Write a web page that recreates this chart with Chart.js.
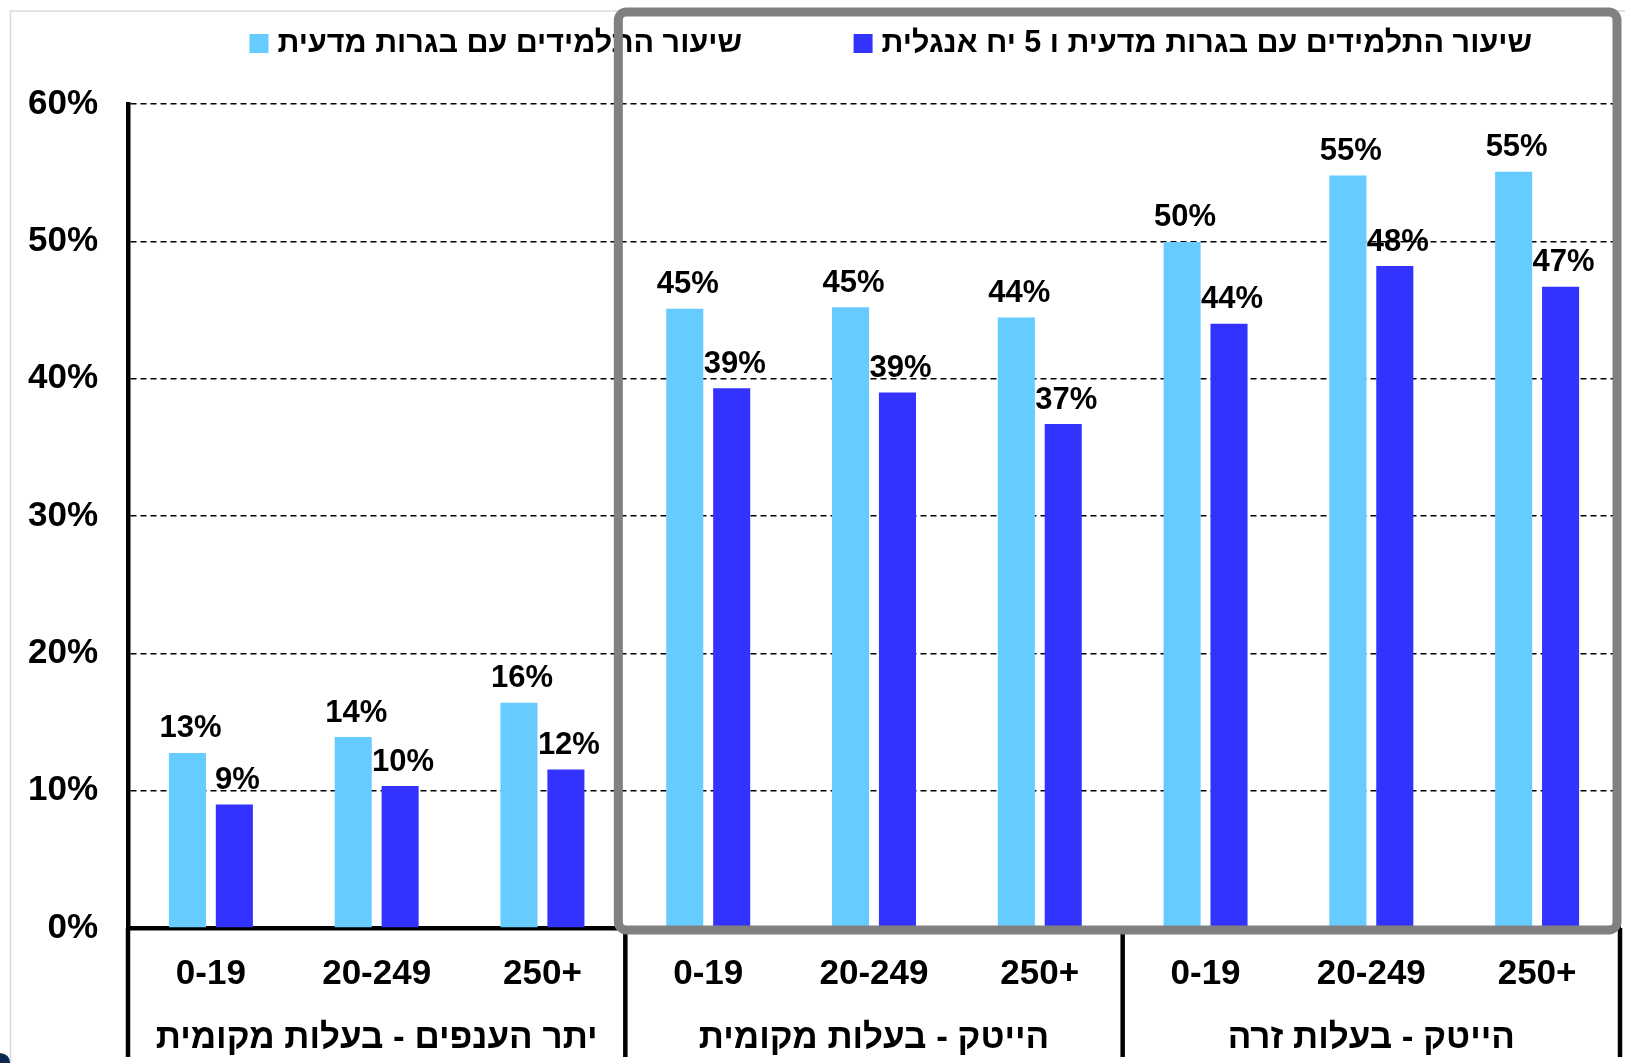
<!DOCTYPE html>
<html><head><meta charset="utf-8">
<script src="https://cdn.jsdelivr.net/npm/chart.js@4.4.1/dist/chart.umd.min.js"></script>
<style>html,body{margin:0;padding:0;background:#fff;overflow:hidden;} canvas{display:block;}</style>
</head><body>
<canvas id="c" width="1625" height="1063"></canvas>
<script>
// ---- data ----
const categories = ['0-19','20-249','250+','0-19','20-249','250+','0-19','20-249','250+'];
const groupLabels = ['יתר הענפים - בעלות מקומית','הייטק - בעלות מקומית','הייטק - בעלות זרה'];
const groupSize = 3;
const seriesNames = ['שיעור התלמידים עם בגרות מדעית','שיעור התלמידים עם בגרות מדעית ו 5 יח אנגלית'];
const scienceValues = [12.75, 13.9, 16.4, 45.1, 45.2, 44.45, 49.96, 54.8, 55.07];
const scienceEnglishValues = [8.99, 10.34, 11.55, 39.3, 39.0, 36.7, 44.0, 48.2, 46.7];
const yTickLabels = ['0%','10%','20%','30%','40%','50%','60%'];

// ---- styles ----
const LIGHT = '#66CCFF', DARK = '#3333FF';
const FAM = "'Liberation Sans', Arial, sans-serif";

const decor = {
  id: 'decor',
  beforeDraw(chart) {
    const ctx = chart.ctx;
    ctx.save();
    ctx.fillStyle = '#fff';
    ctx.fillRect(0, 0, chart.width, chart.height);
    ctx.strokeStyle = '#dadada';
    ctx.lineWidth = 1.5;
    ctx.strokeRect(10.5, 11, chart.width, chart.height);
    ctx.fillStyle = '#0b2a52';
    ctx.beginPath();
    ctx.moveTo(0, 1053);
    ctx.quadraticCurveTo(10, 1054, 10, 1063);
    ctx.lineTo(0, 1063);
    ctx.closePath();
    ctx.fill();
    ctx.restore();
  },
  afterDraw(chart) {
    const {ctx, chartArea: ca, scales: {x}} = chart;
    const step = x.getPixelForValue(1) - x.getPixelForValue(0);
    ctx.save();
    // group separators below the axis
    ctx.strokeStyle = '#000';
    ctx.lineWidth = 4.5;
    for (let g = 0; g <= groupLabels.length; g++) {
      const bx = x.getPixelForValue(g * groupSize) - step / 2;
      ctx.beginPath();
      ctx.moveTo(bx, ca.bottom);
      ctx.lineTo(bx, 1057);
      ctx.stroke();
    }
    // group labels
    ctx.fillStyle = '#000';
    ctx.font = 'bold 35px ' + FAM;
    ctx.textAlign = 'center';
    ctx.textBaseline = 'middle';
    ctx.direction = 'rtl';
    groupLabels.forEach((t, g) => {
      const cx = (x.getPixelForValue(g * groupSize) + x.getPixelForValue(g * groupSize + groupSize - 1)) / 2;
      ctx.fillText(t, cx, 1038);
    });
    // value labels
    ctx.direction = 'ltr';
    ctx.font = 'bold 31px ' + FAM;
    chart.data.datasets.forEach((ds, di) => {
      const meta = chart.getDatasetMeta(di);
      meta.data.forEach((bar, i) => {
        ctx.fillText(Math.round(ds.data[i]) + '%', bar.x + 3, bar.y - 24);
      });
    });
    // legend
    const legendRights = [742, 1532];
    ctx.font = 'bold 30.5px ' + FAM;
    ctx.textAlign = 'right';
    ctx.direction = 'rtl';
    chart.data.datasets.forEach((ds, di) => {
      const r = legendRights[di];
      ctx.fillStyle = '#000';
      ctx.fillText(ds.label, r, 44);
      const w = ctx.measureText(ds.label).width;
      ctx.fillStyle = ds.backgroundColor;
      ctx.fillRect(r - w - 9 - 19, 34, 19, 19);
    });
    // grey highlight box
    const bl = x.getPixelForValue(3) - step / 2 - 7;
    const br = ca.right - 3;
    const bt = 12, bb = ca.bottom + 2, rad = 8;
    ctx.strokeStyle = '#808080';
    ctx.lineWidth = 9;
    ctx.beginPath();
    ctx.moveTo(bl + rad, bt);
    ctx.lineTo(br - rad, bt);
    ctx.arcTo(br, bt, br, bt + rad, rad);
    ctx.lineTo(br, bb - rad);
    ctx.arcTo(br, bb, br - rad, bb, rad);
    ctx.lineTo(bl + rad, bb);
    ctx.arcTo(bl, bb, bl, bb - rad, rad);
    ctx.lineTo(bl, bt + rad);
    ctx.arcTo(bl, bt, bl + rad, bt, rad);
    ctx.closePath();
    ctx.stroke();
    ctx.restore();
  }
};

new Chart(document.getElementById('c'), {
  type: 'bar',
  data: {
    labels: categories,
    datasets: [
      { label: seriesNames[0], data: scienceValues, backgroundColor: LIGHT, borderWidth: 0,
        categoryPercentage: 0.566, barPercentage: 0.79 },
      { label: seriesNames[1], data: scienceEnglishValues, backgroundColor: DARK, borderWidth: 0,
        categoryPercentage: 0.566, barPercentage: 0.79 }
    ]
  },
  options: {
    responsive: false,
    animation: false,
    devicePixelRatio: 1,
    layout: { padding: { left: 0, right: 5, top: 104, bottom: 0 } },
    plugins: { legend: { display: false }, tooltip: { enabled: false }, title: { display: false } },
    scales: {
      x: {
        grid: { display: false, drawTicks: false },
        border: { display: true, color: '#000', width: 4.5 },
        ticks: { color: '#000', font: { family: FAM, size: 35, weight: 'bold' }, padding: 25,
                 maxRotation: 0, autoSkip: false },
        afterFit(s) { s.height = 135; }
      },
      y: {
        min: 0, max: 60,
        grid: { color: '#000', lineWidth: 1.5, drawTicks: false },
        border: { display: true, color: '#000', width: 4.5, dash: [6, 4] },
        ticks: { stepSize: 10, color: '#000', font: { family: FAM, size: 35, weight: 'bold' }, padding: 30,
                 callback: (v, i) => yTickLabels[i] },
        afterFit(s) { s.width = 128; }
      }
    }
  },
  plugins: [decor]
});
</script>
</body></html>
